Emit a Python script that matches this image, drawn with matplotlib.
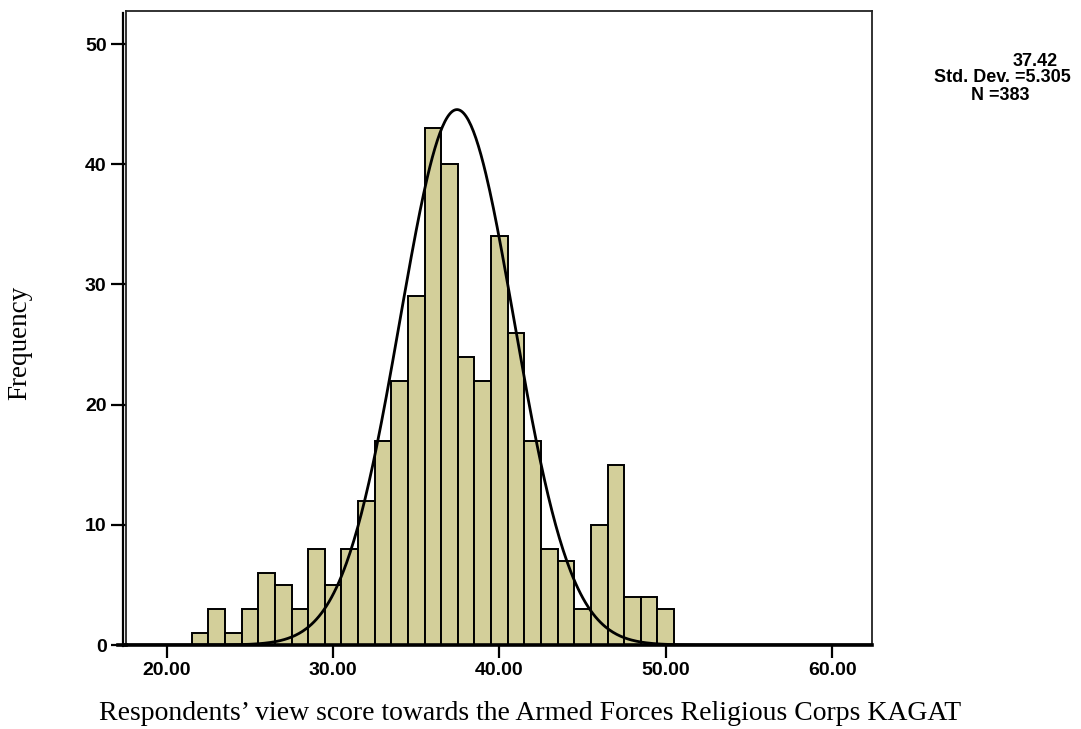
import matplotlib

matplotlib.use("Agg")
import matplotlib.pyplot as plt
import numpy as np
from matplotlib.lines import Line2D

# Histograma: centros de clase (ancho 1) y frecuencias
centros = [22, 23, 24, 25, 26, 27, 28, 29, 30, 31, 32, 33, 34, 35, 36,
           37, 38, 39, 40, 41, 42, 43, 44, 45, 46, 47, 48, 49, 50]
frecuencias = [1, 3, 1, 3, 6, 5, 3, 8, 5, 8, 12, 17, 22, 29, 43,
               40, 24, 22, 34, 26, 17, 8, 7, 3, 10, 15, 4, 4, 3]

# Curva normal superpuesta (tal como aparece dibujada)
curva_media = 37.45
curva_sd = 3.43
n_total = 383

xticks = [20, 30, 40, 50, 60]
yticks = [0, 10, 20, 30, 40, 50]
texto_stats = ["37.42", "Std. Dev. =5.305", "N =383"]

COLOR_BARRA = "#d3cf9a"

fig = plt.figure(figsize=(10.81, 7.29), dpi=100)
ax = fig.add_axes([126 / 1081, 1 - 645 / 729, (872 - 126) / 1081, (645 - 11) / 729])

ax.bar(centros, frecuencias, width=1.0, color=COLOR_BARRA, edgecolor="black",
       linewidth=1.4, zorder=2)

xmin, xmax = 17.55, 62.4
x = np.linspace(xmin, xmax, 600)
y = n_total / (curva_sd * np.sqrt(2 * np.pi)) * np.exp(-0.5 * ((x - curva_media) / curva_sd) ** 2)
ax.plot(x, y, color="black", linewidth=2.0, zorder=3)

ax.set_xlim(xmin, xmax)
ax.set_ylim(0, 52.75)
ax.set_xticks(xticks)
ax.set_xticklabels([f"{v:.2f}" for v in xticks])
ax.set_yticks(yticks)

for lado in ["top", "right", "left"]:
    ax.spines[lado].set_linewidth(1.3)
    ax.spines[lado].set_color("#222222")
ax.spines["bottom"].set_linewidth(2.6)
ax.spines["bottom"].set_color("black")

ax.tick_params(axis="both", direction="out", width=1.6, color="black",
               labelsize=14, pad=3)
ax.tick_params(axis="y", length=11)
ax.tick_params(axis="x", length=9)
for lab in ax.get_xticklabels() + ax.get_yticklabels():
    lab.set_fontweight("bold")
    lab.set_family("Liberation Sans")

# Eje Y separado del marco (línea doble, estilo SPSS)
fig.add_artist(Line2D([123 / 1081, 123 / 1081], [1 - 646 / 729, 1 - 13 / 729],
                      color="black", linewidth=1.6))
fig.add_artist(Line2D([118 / 1081, 126 / 1081], [1 - 645 / 729, 1 - 645 / 729],
                      color="black", linewidth=2.6))

fig.text(20 / 1081, 1 - 343 / 729, "Frequency", rotation=90, ha="center",
         va="center", family="Liberation Serif", fontsize=19.5)
fig.text(530 / 1081, 1 - 714 / 729,
         "Respondents\u2019 view score towards the Armed Forces Religious Corps KAGAT",
         ha="center", va="center", family="Liberation Serif", fontsize=20)

posiciones = [(1035, 61.5), (1002, 78), (1000, 96)]
for texto, (px, py) in zip(texto_stats, posiciones):
    fig.text(px / 1081, 1 - py / 729, texto, ha="center", va="center",
             family="Liberation Sans", fontsize=13, fontweight="bold")

fig.savefig("out.png", dpi=100)
